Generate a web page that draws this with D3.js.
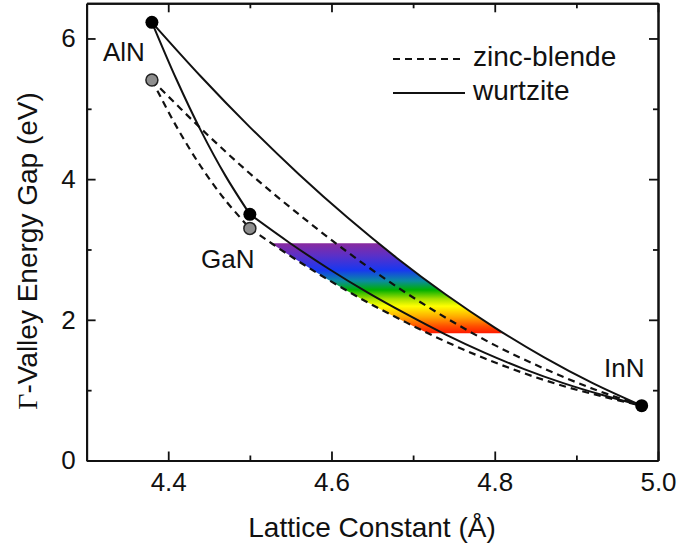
<!DOCTYPE html>
<html><head><meta charset="utf-8">
<script src="https://cdn.jsdelivr.net/npm/d3@7"></script>
<style>
html,body{margin:0;padding:0;background:#fff;}
svg{display:block;}
text{font-family:"Liberation Sans",Arial,sans-serif;fill:#111;}
</style></head>
<body>
<svg id="chart" width="678" height="547"></svg>
<script>
// ---- data (lattice constant in Å, energy gap in eV) ----
const xMajorTicks = [4.4, 4.6, 4.8, 5.0];
const xMinorTicks = [4.5, 4.7, 4.9];
const yMajorTicks = [0, 2, 4, 6];
const yMinorTicks = [1, 3, 5];

// end-point compounds
const wzPoints = [ {name:"AlN", a:4.38, eg:6.23}, {name:"GaN", a:4.50, eg:3.50}, {name:"InN", a:4.98, eg:0.78} ];
const zbPoints = [ {name:"AlN", a:4.38, eg:5.41}, {name:"GaN", a:4.50, eg:3.30}, {name:"InN", a:4.98, eg:0.78} ];

// wurtzite alloy curves
const wzAlInA  = [4.38, 4.44, 4.50, 4.56, 4.62, 4.68, 4.74, 4.80, 4.86, 4.92, 4.98];
const wzAlInEg = [6.23, 5.46, 4.74, 4.07, 3.45, 2.88, 2.36, 1.89, 1.47, 1.10, 0.78];
const wzAlGaA  = [4.38, 4.41, 4.44, 4.47, 4.50];
const wzAlGaEg = [6.23, 5.42, 4.69, 4.05, 3.50];
const wzGaInA  = [4.50, 4.548, 4.596, 4.644, 4.692, 4.74, 4.788, 4.836, 4.884, 4.932, 4.98];
const wzGaInEg = [3.50, 3.10, 2.73, 2.39, 2.08, 1.79, 1.53, 1.30, 1.10, 0.93, 0.78];

// zinc-blende alloy curves
const zbAlInA  = [4.38, 4.44, 4.50, 4.56, 4.62, 4.68, 4.74, 4.80, 4.86, 4.92, 4.98];
const zbAlInEg = [5.41, 4.72, 4.08, 3.50, 2.96, 2.47, 2.03, 1.64, 1.31, 1.02, 0.78];
const zbAlGaA  = [4.38, 4.41, 4.44, 4.47, 4.50];
const zbAlGaEg = [5.41, 4.75, 4.18, 3.70, 3.30];
const zbGaInA  = [4.50, 4.548, 4.596, 4.644, 4.692, 4.74, 4.788, 4.836, 4.884, 4.932, 4.98];
const zbGaInEg = [3.30, 2.92, 2.57, 2.25, 1.96, 1.69, 1.45, 1.24, 1.06, 0.91, 0.78];

// visible band (eV)
const visibleBand = [1.81, 3.09];
const spectrumColors = ["#8a2a9e", "#5a30c8", "#1838f0", "#0a8ca0", "#00b000", "#a8e000", "#ffff00", "#ffa800", "#ff5000", "#ff1a00"];
const spectrumStops  = [0, 0.14, 0.3, 0.42, 0.52, 0.62, 0.7, 0.82, 0.92, 1];

// ---- chart ----
const svg = d3.select("#chart");
const x = d3.scaleLinear().domain([4.3, 5.0]).range([86.6, 658]);
const y = d3.scaleLinear().domain([0, 6.5]).range([460.5, 3.3]);

const zip = (A, E) => A.map((a, i) => ({a, eg: E[i]}));
const line = d3.line().x(d => x(d.a)).y(d => y(d.eg)).curve(d3.curveCatmullRom.alpha(0.5));

// rainbow region between zb GaInN and wz AlInN
const defs = svg.append("defs");
const grad = defs.append("linearGradient").attr("id", "spec")
  .attr("gradientUnits", "userSpaceOnUse")
  .attr("x1", 0).attr("x2", 0)
  .attr("y1", y(visibleBand[1])).attr("y2", y(visibleBand[0]));
spectrumStops.forEach((s, i) => grad.append("stop").attr("offset", s).attr("stop-color", spectrumColors[i]));
defs.append("clipPath").attr("id", "band").append("rect")
  .attr("x", x(4.3)).attr("width", x(5.0) - x(4.3))
  .attr("y", y(visibleBand[1])).attr("height", y(visibleBand[0]) - y(visibleBand[1]));

const upper = zip(wzAlInA, wzAlInEg);
const lower = zip(zbGaInA, zbGaInEg).slice().reverse();
const regionPath = line(upper) + "L" + line(lower).slice(1) + "Z";
svg.append("path").attr("d", regionPath).attr("fill", "url(#spec)").attr("clip-path", "url(#band)");

// curves
const curves = [
  {A: zbAlInA, E: zbAlInEg, dash: true},
  {A: zbAlGaA, E: zbAlGaEg, dash: true},
  {A: zbGaInA, E: zbGaInEg, dash: true},
  {A: wzAlInA, E: wzAlInEg, dash: false},
  {A: wzAlGaA, E: wzAlGaEg, dash: false},
  {A: wzGaInA, E: wzGaInEg, dash: false}
];
svg.append("g").selectAll("path").data(curves).join("path")
  .attr("d", c => line(zip(c.A, c.E)))
  .attr("fill", "none").attr("stroke", "#111")
  .attr("stroke-width", d => d.dash ? 2.2 : 2)
  .attr("stroke-dasharray", d => d.dash ? "7,5" : null);

// axes (ticks inward)
function styleAxis(g) {
  g.selectAll(".domain").attr("stroke", "#111").attr("stroke-width", 2);
  g.selectAll(".tick line").attr("stroke", "#111").attr("stroke-width", 1.8);
  g.selectAll(".tick text").style("font-size", "26px").attr("fill", "#111")
    .style("font-family", '"Liberation Sans", Arial, sans-serif');
}
svg.append("g").attr("transform", `translate(0,${y(0)})`)
  .call(d3.axisBottom(x).tickValues(xMajorTicks).tickFormat(d3.format(".1f")).tickSize(-9).tickSizeOuter(0).tickPadding(12))
  .call(styleAxis);
svg.append("g").attr("transform", `translate(0,${y(0)})`)
  .call(d3.axisBottom(x).tickValues(xMinorTicks).tickFormat("").tickSize(-5).tickSizeOuter(0))
  .call(styleAxis);
svg.append("g").attr("transform", `translate(0,${y(6.5)})`)
  .call(d3.axisTop(x).tickValues(xMajorTicks).tickFormat("").tickSize(-9).tickSizeOuter(0))
  .call(styleAxis);
svg.append("g").attr("transform", `translate(0,${y(6.5)})`)
  .call(d3.axisTop(x).tickValues(xMinorTicks).tickFormat("").tickSize(-5).tickSizeOuter(0))
  .call(styleAxis);
svg.append("g").attr("transform", `translate(${x(4.3)},0)`)
  .call(d3.axisLeft(y).tickValues(yMajorTicks).tickFormat(d3.format("d")).tickSize(-9).tickSizeOuter(0).tickPadding(11))
  .call(styleAxis);
svg.append("g").attr("transform", `translate(${x(4.3)},0)`)
  .call(d3.axisLeft(y).tickValues(yMinorTicks).tickFormat("").tickSize(-5).tickSizeOuter(0))
  .call(styleAxis);
svg.append("g").attr("transform", `translate(${x(5.0)},0)`)
  .call(d3.axisRight(y).tickValues(yMajorTicks).tickFormat("").tickSize(-9).tickSizeOuter(0))
  .call(styleAxis);
svg.append("g").attr("transform", `translate(${x(5.0)},0)`)
  .call(d3.axisRight(y).tickValues(yMinorTicks).tickFormat("").tickSize(-5).tickSizeOuter(0))
  .call(styleAxis);

// points
svg.append("g").selectAll("circle").data(zbPoints.filter(d => d.name !== "InN")).join("circle")
  .attr("cx", d => x(d.a)).attr("cy", d => y(d.eg)).attr("r", 6)
  .attr("fill", "#8e8e8e").attr("stroke", "#222").attr("stroke-width", 1.5);
svg.append("g").selectAll("circle").data(wzPoints).join("circle")
  .attr("cx", d => x(d.a)).attr("cy", d => y(d.eg)).attr("r", 6.5)
  .attr("fill", "#000");

// compound labels
const labelPos = {AlN: [103, 61], GaN: [201, 268], InN: [604, 377]};
svg.append("g").selectAll("text").data(wzPoints).join("text")
  .attr("x", d => labelPos[d.name][0]).attr("y", d => labelPos[d.name][1])
  .style("font-size", "26px").text(d => d.name);

// legend
const legendItems = [{label: "zinc-blende", dash: true}, {label: "wurtzite", dash: false}];
const lg = svg.append("g");
legendItems.forEach((it, i) => {
  const ly = 59 + i * 34;
  lg.append("line").attr("x1", 393).attr("x2", 465).attr("y1", ly).attr("y2", ly)
    .attr("stroke", "#111").attr("stroke-width", 2)
    .attr("stroke-dasharray", it.dash ? "7,5" : null);
  lg.append("text").attr("x", 473).attr("y", ly + 7).style("font-size", "28px").text(it.label);
});

// axis titles
svg.append("text").attr("x", 372).attr("y", 537).attr("text-anchor", "middle")
  .style("font-size", "28px").text("Lattice Constant (Å)");
const yt = svg.append("text").attr("transform", "translate(37,251) rotate(-90)")
  .attr("text-anchor", "middle").style("font-size", "28px");
yt.append("tspan").style("font-family", '"Liberation Serif", "Times New Roman", serif').text("Γ");
yt.append("tspan").text("-Valley Energy Gap (eV)");
</script>
</body></html>
